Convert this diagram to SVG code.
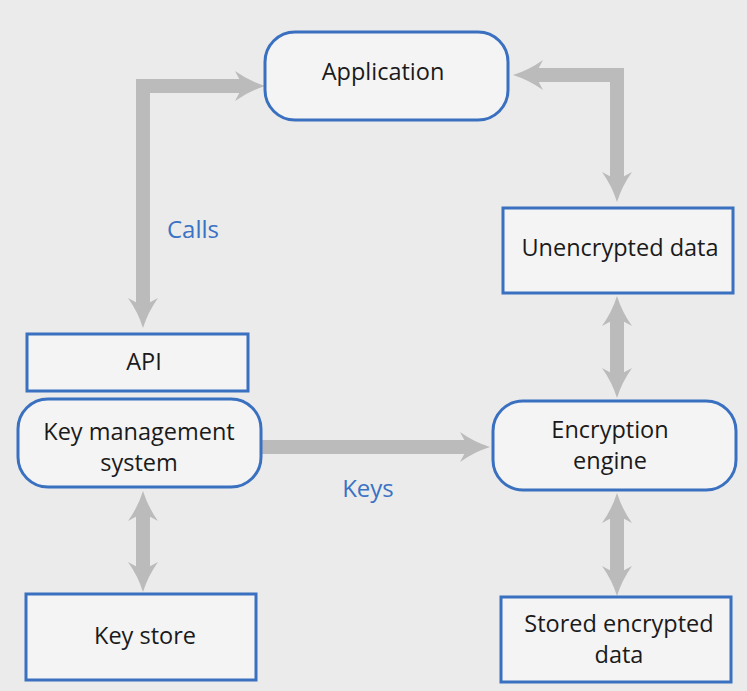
<svg xmlns="http://www.w3.org/2000/svg" width="747" height="691" viewBox="0 0 747 691">
<style>
.node{fill:#f4f4f4;stroke:#3a70c0;stroke-width:3}
.t{font-family:"Open Sans","Liberation Sans",sans-serif;font-size:23.5px;fill:#1a1a1a;text-anchor:middle;dominant-baseline:central}
.lbl{font-family:"Open Sans","Liberation Sans",sans-serif;font-size:24px;fill:#3a72c4;text-anchor:middle;dominant-baseline:central}
.c{fill:none;stroke:#bbbbbb;stroke-width:14;stroke-linejoin:miter}
</style>
<defs>
<marker id="ah" markerUnits="userSpaceOnUse" viewBox="-10 -16 34 32" refX="0" refY="0" markerWidth="34" markerHeight="32" orient="auto-start-reverse">
<path d="M0,0 L-8,-15 Q6,-5 22,0 Q6,5 -8,15 Z" fill="#bbbbbb"/>
</marker>
</defs>
<rect width="747" height="691" fill="#ebebeb"/>
<g id="connectors">
<path class="c" d="M143,306 L143,86 L243,86" marker-start="url(#ah)" marker-end="url(#ah)"/>
<path class="c" d="M535,75 L617,75 L617,180" marker-start="url(#ah)" marker-end="url(#ah)"/>
<path class="c" d="M617,318 L617,376" marker-start="url(#ah)" marker-end="url(#ah)"/>
<path class="c" d="M262,447 L468,447" marker-end="url(#ah)"/>
<path class="c" d="M143,513 L143,570" marker-start="url(#ah)" marker-end="url(#ah)"/>
<path class="c" d="M617,515 L617,574" marker-start="url(#ah)" marker-end="url(#ah)"/>
<text class="lbl" x="193" y="228">Calls</text>
<text class="lbl" x="368" y="487">Keys</text>
</g>
<g id="application">
<rect class="node" x="265" y="32" width="243" height="88" rx="30"/>
<text class="t" x="383" y="71">Application</text>
</g>
<g id="unencrypted">
<rect class="node" x="503" y="208" width="230" height="85"/>
<text class="t" x="620" y="247">Unencrypted data</text>
</g>
<g id="api">
<rect class="node" x="27" y="334" width="221" height="57"/>
<text class="t" x="144" y="361">API</text>
</g>
<g id="kms">
<rect class="node" x="18" y="399" width="243" height="88" rx="30"/>
<text class="t" x="139" y="431">Key management</text>
<text class="t" x="139" y="462">system</text>
</g>
<g id="engine">
<rect class="node" x="493" y="401" width="243" height="89" rx="30"/>
<text class="t" x="610" y="429">Encryption</text>
<text class="t" x="610" y="460">engine</text>
</g>
<g id="keystore">
<rect class="node" x="26" y="594" width="230" height="86"/>
<text class="t" x="145" y="635">Key store</text>
</g>
<g id="stored">
<rect class="node" x="501" y="597" width="230" height="85"/>
<text class="t" x="619" y="623">Stored encrypted</text>
<text class="t" x="619" y="654">data</text>
</g>
</svg>
